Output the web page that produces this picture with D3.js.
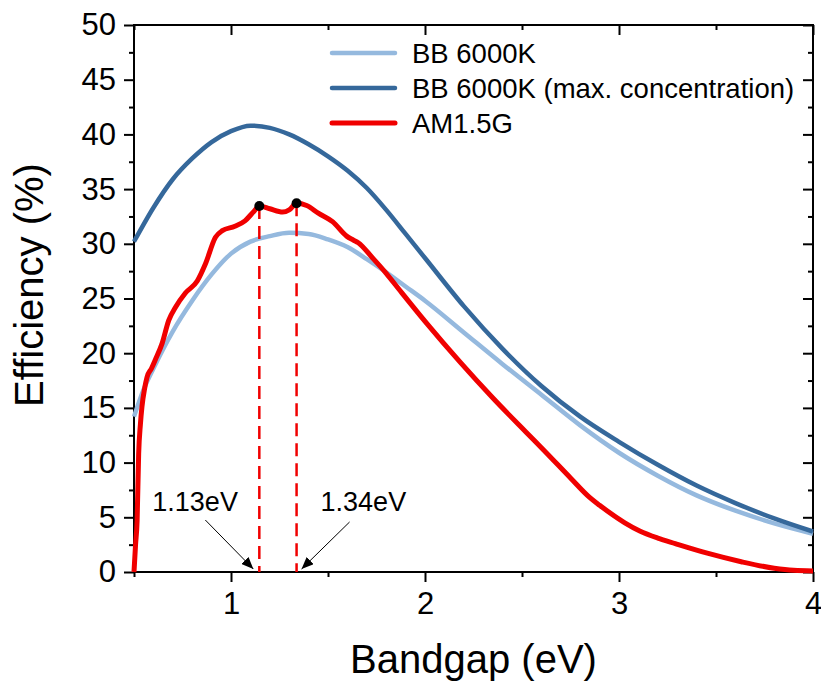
<!DOCTYPE html>
<html>
<head>
<meta charset="utf-8">
<script src="https://cdn.jsdelivr.net/npm/d3@7/dist/d3.min.js"></script>
<style>
  body { margin: 0; background: #fff; }
  text { font-family: Arial, "Liberation Sans", sans-serif; fill: #000; }
</style>
</head>
<body>
<div id="chart"></div>
<script>
// donnees
const bbX = [0.5, 0.55, 0.6, 0.7, 0.8, 0.9, 1.0, 1.1, 1.2, 1.3, 1.4, 1.5, 1.6, 1.7, 1.8, 1.9, 2.0, 2.2, 2.4, 2.6, 2.8, 3.0, 3.2, 3.4, 3.6, 3.8, 4.0];
const bbY = [14.2, 16.7, 18.6, 22.0, 24.8, 27.2, 29.1, 30.2, 30.7, 31.0, 30.9, 30.4, 29.7, 28.6, 27.4, 26.1, 24.8, 21.9, 19.0, 16.2, 13.4, 10.9, 8.8, 7.0, 5.6, 4.45, 3.5];

const bbMaxX = [0.5, 0.6, 0.7, 0.8, 0.9, 1.0, 1.1, 1.2, 1.3, 1.4, 1.5, 1.6, 1.7, 1.8, 1.9, 2.0, 2.2, 2.4, 2.6, 2.8, 3.0, 3.2, 3.4, 3.6, 3.8, 4.0];
const bbMaxY = [30.2, 33.3, 35.9, 37.8, 39.3, 40.3, 40.8, 40.6, 40.0, 39.1, 38.0, 36.7, 35.1, 33.1, 30.9, 28.7, 24.3, 20.4, 17.0, 14.2, 11.9, 9.8, 7.9, 6.3, 4.9, 3.7];

const amX = [0.5, 0.508, 0.516, 0.524, 0.533, 0.541, 0.555, 0.567, 0.59, 0.61, 0.645, 0.679, 0.714, 0.765, 0.826, 0.869, 0.92, 0.955, 1.02, 1.072, 1.12, 1.146, 1.2, 1.266, 1.3, 1.338, 1.39, 1.45, 1.525, 1.596, 1.63, 1.656, 1.73, 1.8, 1.87, 2.01, 2.18, 2.35, 2.52, 2.62, 2.75, 2.85, 2.9, 3.03, 3.107, 3.2, 3.29, 3.46, 3.63, 3.8, 3.9, 4.0];
const amY = [0, 2.5, 4.7, 10.8, 13.5, 15.1, 16.8, 17.8, 18.6, 19.4, 20.9, 23.0, 24.2, 25.5, 26.6, 28.2, 30.6, 31.2, 31.6, 32.1, 33.0, 33.45, 33.2, 32.9, 33.1, 33.7, 33.5, 32.8, 32.0, 30.7, 30.35, 30.1, 28.7, 27.3, 25.75, 22.7, 19.2, 15.9, 12.8, 11.0, 8.6, 6.8, 6.1, 4.5, 3.75, 3.1, 2.6, 1.7, 0.94, 0.34, 0.15, 0.1];

// pics marques (points noirs + tirets)
const peakX = [1.146, 1.338];
const peakY = [33.45, 33.7];
const peakLabels = ["1.13eV", "1.34eV"];

const seriesNames = ["BB 6000K", "BB 6000K (max. concentration)", "AM1.5G"];
const seriesColors = ["#95b9de", "#35689b", "#f00000"];

const xMajor = [1, 2, 3, 4];
const xMinor = [0.5, 1.5, 2.5, 3.5];
const yMajor = [0, 5, 10, 15, 20, 25, 30, 35, 40, 45, 50];
const yMinor = [2.5, 7.5, 12.5, 17.5, 22.5, 27.5, 32.5, 37.5, 42.5, 47.5];

const width = 821, height = 686;
const mLeft = 134, mRight = 813, mTop = 25, mBottom = 572;

const svg = d3.select("#chart").append("svg")
    .attr("width", width)
    .attr("height", height)
    .style("background-color", "white");

const x = d3.scaleLinear().domain([0.5, 4]).range([mLeft, mRight]);
const y = d3.scaleLinear().domain([0, 50]).range([mBottom, mTop]);

// axes
function styleAxis(g) {
    g.select(".domain").remove();
    g.selectAll(".tick line").attr("stroke", "#000").attr("stroke-width", 2);
    g.selectAll(".tick text").style("font-size", "31px").style("font-family", "Arial, 'Liberation Sans', sans-serif");
}
svg.append("g").attr("transform", "translate(0," + mBottom + ")")
    .call(d3.axisBottom(x).tickValues(xMajor).tickSize(10).tickPadding(10).tickFormat(d3.format("d")))
    .call(styleAxis);
svg.append("g").attr("transform", "translate(0," + mBottom + ")")
    .call(d3.axisBottom(x).tickValues(xMinor).tickSize(5).tickFormat(""))
    .call(styleAxis);
svg.append("g").attr("transform", "translate(" + mLeft + ",0)")
    .call(d3.axisLeft(y).tickValues(yMajor).tickSize(10).tickPadding(8))
    .call(styleAxis);
svg.append("g").attr("transform", "translate(" + mLeft + ",0)")
    .call(d3.axisLeft(y).tickValues(yMinor).tickSize(5).tickFormat(""))
    .call(styleAxis);
// haut et droite : ticks vers l'interieur
svg.append("g").attr("transform", "translate(0," + mTop + ")")
    .call(d3.axisTop(x).tickValues(xMajor).tickSize(-10).tickFormat(""))
    .call(styleAxis);
svg.append("g").attr("transform", "translate(0," + mTop + ")")
    .call(d3.axisTop(x).tickValues(xMinor).tickSize(-5).tickFormat(""))
    .call(styleAxis);
svg.append("g").attr("transform", "translate(" + mRight + ",0)")
    .call(d3.axisRight(y).tickValues(yMajor).tickSize(-10).tickFormat(""))
    .call(styleAxis);
svg.append("g").attr("transform", "translate(" + mRight + ",0)")
    .call(d3.axisRight(y).tickValues(yMinor).tickSize(-5).tickFormat(""))
    .call(styleAxis);

// cadre
svg.append("rect")
    .attr("x", mLeft).attr("y", mTop)
    .attr("width", mRight - mLeft).attr("height", mBottom - mTop)
    .attr("fill", "none").attr("stroke", "#000").attr("stroke-width", 2);

// courbes
const line = d3.line()
    .x(d => x(d[0]))
    .y(d => y(d[1]))
    .curve(d3.curveMonotoneX);

const series = [
    d3.zip(bbX, bbY),
    d3.zip(bbMaxX, bbMaxY),
    d3.zip(amX, amY)
];
const widths = [4.5, 4.5, 5];

series.forEach((s, i) => {
    svg.append("path")
        .datum(s)
        .attr("d", line)
        .attr("fill", "none")
        .attr("stroke", seriesColors[i])
        .attr("stroke-width", widths[i])
        .attr("stroke-linejoin", "round");
});

// tirets verticaux
svg.selectAll(".peak-line")
    .data(peakX)
    .enter().append("line")
    .attr("x1", d => x(d)).attr("x2", d => x(d))
    .attr("y1", (d, i) => y(peakY[i])).attr("y2", y(0))
    .attr("stroke", "#f00000")
    .attr("stroke-width", 2.5)
    .attr("stroke-dasharray", "13,7");

svg.selectAll(".peak-dot")
    .data(peakX)
    .enter().append("circle")
    .attr("cx", d => x(d))
    .attr("cy", (d, i) => y(peakY[i]))
    .attr("r", 5)
    .attr("fill", "#000");

// fleches
const defs = svg.append("defs");
defs.append("marker")
    .attr("id", "arrow")
    .attr("viewBox", "0 0 12 10")
    .attr("refX", 12).attr("refY", 5)
    .attr("markerWidth", 12).attr("markerHeight", 10)
    .attr("markerUnits", "userSpaceOnUse")
    .attr("orient", "auto")
    .append("path")
    .attr("d", "M0,0 L12,5 L0,10 Z")
    .attr("fill", "#000");

// annotation : texte + fleche vers le pied du tiret
const labelDx = [-107, 24];
const arrowStart = [[-54, -52], [53, -50]];
const arrowEnd = [[-6, -3], [5, -3]];
peakX.forEach((p, i) => {
    svg.append("text")
        .attr("x", x(p) + labelDx[i])
        .attr("y", mBottom - 61)
        .style("font-size", "27px")
        .text(peakLabels[i]);
    svg.append("line")
        .attr("x1", x(p) + arrowStart[i][0]).attr("y1", mBottom + arrowStart[i][1])
        .attr("x2", x(p) + arrowEnd[i][0]).attr("y2", mBottom + arrowEnd[i][1])
        .attr("stroke", "#000").attr("stroke-width", 1)
        .attr("marker-end", "url(#arrow)");
});

// legende
const legend = svg.append("g")
    .attr("transform", "translate(332, 53)")
    .selectAll("g")
    .data(seriesNames)
    .enter().append("g")
    .attr("transform", (d, i) => "translate(0," + i * 35 + ")");

legend.append("line")
    .attr("x1", 0).attr("x2", 63)
    .attr("y1", 0).attr("y2", 0)
    .attr("stroke", (d, i) => seriesColors[i])
    .attr("stroke-width", (d, i) => widths[i])
    .attr("stroke-linecap", "round");

legend.append("text")
    .attr("x", 80)
    .attr("y", 10)
    .style("font-size", "27.5px")
    .text(d => d);

// titres des axes
svg.append("text")
    .attr("x", (mLeft + mRight) / 2)
    .attr("y", 673)
    .attr("text-anchor", "middle")
    .style("font-size", "40px")
    .text("Bandgap (eV)");

svg.append("text")
    .attr("transform", "translate(43," + 285 + ") rotate(-90)")
    .attr("text-anchor", "middle")
    .style("font-size", "40px")
    .text("Efficiency (%)");
</script>
</body>
</html>
